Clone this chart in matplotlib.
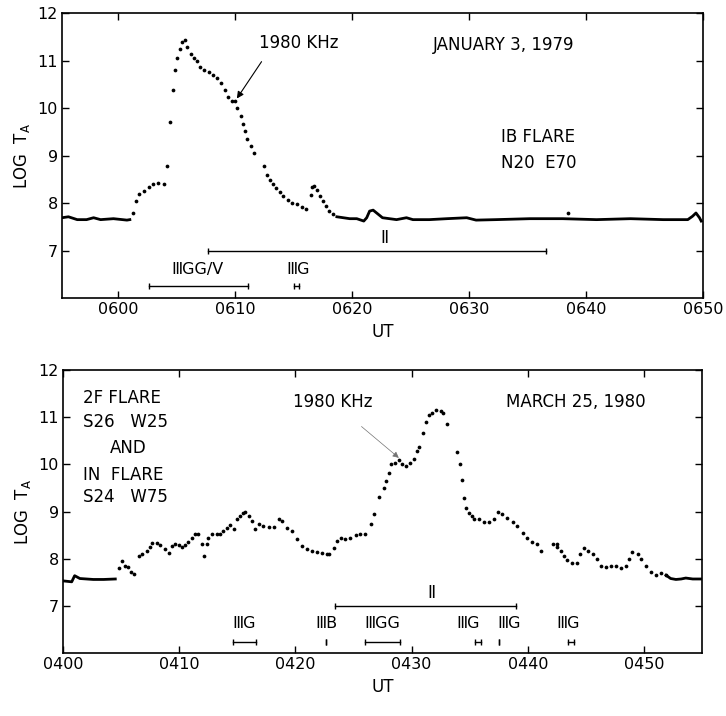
import matplotlib
matplotlib.use("Agg")
import matplotlib.pyplot as plt

plt.rcParams['font.family'] = ['DejaVu Sans']
plt.rcParams['mathtext.default'] = 'regular'

# ---- January 3, 1979 (minutes after 0600 UT, log T_A) ----
jan_base1_t = [-4.8, -4.25, -3.5, -2.7, -2.1, -1.5, -0.4, 0.75, 1.0]
jan_base1_v = [7.69, 7.71, 7.65, 7.65, 7.69, 7.65, 7.67, 7.64, 7.65]

jan_burst_t = [1.25, 1.5, 1.8, 2.2, 2.6, 3.0, 3.45, 3.9, 4.2, 4.45, 4.67, 4.85, 5.0,
               5.25, 5.45, 5.7, 5.9, 6.25, 6.5, 6.7, 7.0, 7.3, 7.8, 8.15, 8.45, 8.8,
               9.1, 9.35, 9.7, 10.0, 10.2, 10.5, 10.7, 10.85, 11.0, 11.4, 11.65, 12.5,
               12.75, 13.0, 13.2, 13.5, 13.8, 14.1, 14.5, 14.85, 15.3, 15.7, 16.1]
jan_burst_v = [7.80, 8.04, 8.18, 8.26, 8.34, 8.41, 8.43, 8.39, 8.77, 9.70, 10.37, 10.80, 11.05,
               11.24, 11.38, 11.43, 11.29, 11.14, 11.05, 10.98, 10.87, 10.80, 10.75, 10.70, 10.63, 10.52,
               10.37, 10.23, 10.14, 10.14, 10.0, 9.84, 9.67, 9.51, 9.35, 9.21, 9.05, 8.77,
               8.60, 8.49, 8.41, 8.32, 8.23, 8.14, 8.07, 8.01, 7.97, 7.92, 7.88]

jan_bump_t = [16.45, 16.55, 16.75, 17.0, 17.25, 17.55, 17.8, 18.05, 18.4]
jan_bump_v = [8.16, 8.34, 8.35, 8.27, 8.14, 8.04, 7.93, 7.84, 7.76]

jan_base2_t = [18.7, 19.25, 19.8, 20.4, 21.0, 21.25, 21.5, 21.8, 22.25, 22.6, 23.8, 24.65,
               25.2, 26.6, 28.1, 29.8, 30.6, 32.3, 35.2, 38.0, 40.9, 43.8, 46.6, 48.7,
               49.1, 49.4, 49.7, 49.85]
jan_base2_v = [7.71, 7.69, 7.67, 7.67, 7.62, 7.69, 7.83, 7.85, 7.76, 7.69, 7.65, 7.69,
               7.65, 7.65, 7.67, 7.69, 7.64, 7.65, 7.67, 7.67, 7.65, 7.67, 7.65, 7.65,
               7.72, 7.79, 7.69, 7.62]
jan_spike_t = [38.5]
jan_spike_v = [7.79]

jan_ticks = [0, 10, 20, 30, 40, 50]
jan_labels = ["0600", "0610", "0620", "0630", "0640", "0650"]

# ---- March 25, 1980 (minutes after 0400 UT) ----
mar_base1_t = [0.0, 0.75, 1.0, 1.45, 2.6, 3.5, 4.5]
mar_base1_v = [7.53, 7.51, 7.64, 7.58, 7.56, 7.56, 7.57]

mar_dots_t = [4.85, 5.1, 5.35, 5.6, 5.85, 6.1, 6.5, 6.8, 7.2, 7.45, 7.7, 8.1, 8.35, 8.8,
              9.1, 9.35, 9.65, 9.95, 10.2, 10.5, 10.8, 11.1, 11.4, 11.6, 11.95, 12.15,
              12.4, 12.5, 12.8, 13.25, 13.5, 13.8, 14.1, 14.4, 14.7, 14.95, 15.25, 15.5,
              15.7, 16.0, 16.25, 16.55, 16.85, 17.25, 17.7, 18.15, 18.55, 18.85, 19.3,
              19.7, 20.15, 20.6, 21.0, 21.4, 21.9, 22.3, 22.7, 22.9, 23.3, 23.6, 23.9,
              24.3, 24.7, 25.2, 25.6, 26.0, 26.5, 26.8, 27.2, 27.6, 27.8, 28.05, 28.25,
              28.6, 28.9, 29.2, 29.5, 29.9, 30.25, 30.5, 30.6, 31.0, 31.2, 31.5, 31.8,
              32.1, 32.5, 32.7, 33.05, 33.9, 34.15, 34.35, 34.5, 34.7, 34.95, 35.2, 35.4,
              35.8, 36.2, 36.65, 37.1, 37.45, 37.8, 38.25, 38.7, 39.1, 39.55, 39.95,
              40.4, 40.8, 41.1, 42.2, 42.5, 42.55, 42.85, 43.15, 43.4, 43.85, 44.2,
              44.5, 44.8, 45.15, 45.6, 45.95, 46.3, 46.7, 47.15, 47.6, 48.0, 48.45,
              48.75, 49.0, 49.45, 49.75, 50.2, 50.6, 51.0, 51.45, 51.9]
mar_dots_v = [7.80, 7.96, 7.85, 7.82, 7.72, 7.67, 8.06, 8.10, 8.17, 8.24, 8.33, 8.33, 8.29, 8.20,
              8.13, 8.27, 8.31, 8.29, 8.24, 8.29, 8.36, 8.45, 8.52, 8.52, 8.31, 8.06,
              8.31, 8.45, 8.52, 8.52, 8.52, 8.59, 8.66, 8.72, 8.64, 8.84, 8.91, 8.97,
              8.99, 8.91, 8.80, 8.62, 8.73, 8.69, 8.68, 8.68, 8.84, 8.80, 8.66,
              8.59, 8.41, 8.27, 8.20, 8.17, 8.15, 8.13, 8.10, 8.10, 8.22, 8.38, 8.45,
              8.42, 8.44, 8.51, 8.53, 8.53, 8.73, 8.94, 9.31, 9.50, 9.64, 9.82, 10.0,
              10.04, 10.10, 10.0, 9.96, 10.03, 10.12, 10.28, 10.38, 10.66, 10.89, 11.05, 11.10,
              11.16, 11.14, 11.09, 10.85, 10.26, 10.0, 9.68, 9.29, 9.08, 8.98, 8.91, 8.84,
              8.85, 8.77, 8.77, 8.84, 8.99, 8.94, 8.87, 8.78, 8.69, 8.54, 8.45,
              8.36, 8.31, 8.17, 8.32, 8.31, 8.24, 8.17, 8.06, 7.98, 7.91, 7.91,
              8.10, 8.22, 8.17, 8.10, 7.99, 7.84, 7.82, 7.85, 7.84, 7.80, 7.84,
              8.00, 8.15, 8.10, 7.99, 7.85, 7.71, 7.65, 7.70, 7.65]

mar_base2_t = [51.9, 52.3, 52.75, 53.2, 53.6, 54.2, 54.9, 55.0]
mar_base2_v = [7.65, 7.58, 7.56, 7.57, 7.59, 7.57, 7.57, 7.57]

mar_ticks = [0, 10, 20, 30, 40, 50]
mar_labels = ["0400", "0410", "0420", "0430", "0440", "0450"]

# burst-type bars: (label, start, end, label x)
jan_type2 = ("\u2161", 7.7, 36.6, 22.8)
jan_type3 = [("\u2162GG/V", 2.65, 11.1, 6.8), ("\u2162G", 15.0, 15.5, 15.4)]
mar_type2 = ("\u2161", 23.4, 39.0, 31.7)
mar_type3 = [("\u2162G", 14.6, 16.6, 15.6), ("\u2162B", 22.6, 22.6, 22.7),
             ("\u2162GG", 26.0, 29.0, 27.5), ("\u2162G", 35.5, 36.0, 34.9),
             ("\u2162G", 37.5, 37.5, 38.4), ("\u2162G", 43.5, 44.0, 43.5)]

fig = plt.figure(figsize=(7.26, 7.16), dpi=100)
ax1 = fig.add_axes([0.0854, 0.5838, 0.8829, 0.398])
ax2 = fig.add_axes([0.0868, 0.088, 0.8802, 0.395])

dot = dict(ls='none', marker='o', ms=2.7, color='black', mec='none')
dense = dict(ls='-', lw=2.0, color='black')


def style_axis(ax, xlim, ticks, labels):
    ax.set_xlim(*xlim)
    ax.set_ylim(6, 12)
    ax.set_yticks([7, 8, 9, 10, 11, 12])
    ax.set_xticks(ticks)
    ax.set_xticklabels(labels)
    ax.tick_params(direction='in', length=5, width=1, top=True, right=True,
                   labelsize=11.5, pad=3)
    for s in ax.spines.values():
        s.set_linewidth(1.2)
    ax.set_ylabel("LOG  T$_A$", fontsize=12, labelpad=4)
    ax.set_xlabel("UT", fontsize=12, labelpad=4)


def burst_bars(ax, type2, type3, y3, ylab3):
    lab, a, b, xl = type2
    ax.plot([a, b], [7.0, 7.0], '-', color='black', lw=1, marker='|', ms=5)
    ax.text(xl, 7.27, lab, ha='center', va='center', fontsize=12)
    for lab, a, b, xl in type3:
        ax.plot([a, b], [y3, y3], '-', color='black', lw=1, marker='|', ms=5)
        ax.text(xl, ylab3, lab, ha='center', va='center', fontsize=11.5)


# top panel
ax1.plot(jan_base1_t, jan_base1_v, **dense)
ax1.plot(jan_burst_t, jan_burst_v, **dot)
ax1.plot(jan_bump_t, jan_bump_v, **dot)
ax1.plot(jan_base2_t, jan_base2_v, **dense)
ax1.plot(jan_spike_t, jan_spike_v, **dot)
style_axis(ax1, (-4.8, 50), jan_ticks, jan_labels)
burst_bars(ax1, jan_type2, jan_type3, 6.26, 6.6)
ax1.annotate("1980 KHz", xy=(10.15, 10.2), xytext=(12.0, 11.37), fontsize=12,
             va='center', ha='left',
             arrowprops=dict(arrowstyle='-|>', lw=0.8, color='black',
                             mutation_scale=10, shrinkA=6, shrinkB=0,
                             relpos=(0.12, 0.0)))
ax1.text(26.9, 11.33, "JANUARY 3, 1979", fontsize=12, va='center')
ax1.text(32.7, 9.39, "IB FLARE", fontsize=12, va='center')
ax1.text(32.7, 8.85, "N20  E70", fontsize=12, va='center')

# bottom panel
ax2.plot(mar_base1_t, mar_base1_v, **dense)
ax2.plot(mar_dots_t, mar_dots_v, **dot)
ax2.plot(mar_base2_t, mar_base2_v, **dense)
style_axis(ax2, (0, 55), mar_ticks, mar_labels)
burst_bars(ax2, mar_type2, mar_type3, 6.23, 6.62)
ax2.annotate("1980 KHz", xy=(28.9, 10.14), xytext=(23.2, 11.32), fontsize=12,
             va='center', ha='center',
             arrowprops=dict(arrowstyle='-|>', lw=0.5, color='0.45',
                             mutation_scale=9, shrinkA=14, shrinkB=0))
ax2.text(38.1, 11.32, "MARCH 25, 1980", fontsize=12, va='center')
for txt, xx, yy in [("2F FLARE", 1.7, 11.41), ("S26   W25", 1.7, 10.90),
                    ("AND", 4.05, 10.35), ("IN  FLARE", 1.7, 9.78),
                    ("S24   W75", 1.7, 9.30)]:
    ax2.text(xx, yy, txt, fontsize=12, va='center')

fig.savefig("out.png", dpi=100)
